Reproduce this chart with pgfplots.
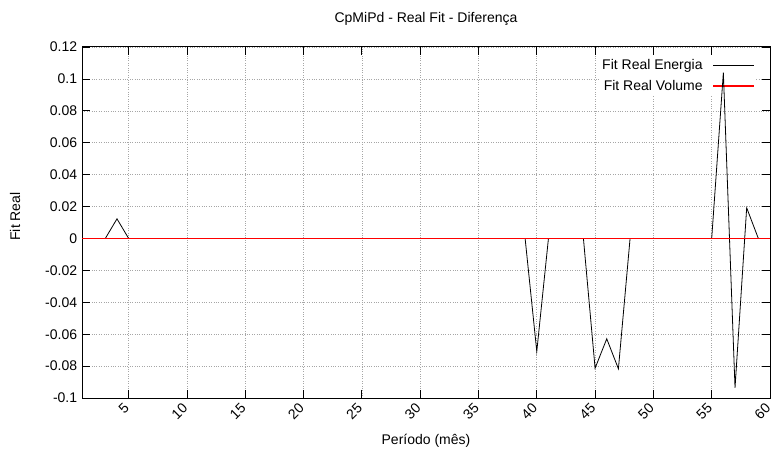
\documentclass[border=0pt]{standalone}
\usepackage{pgfplots}
\pgfplotsset{compat=1.18}
\usepackage{fontspec}
\setmainfont{Liberation Sans}
\begin{document}
\fontsize{14bp}{17bp}\selectfont
\begin{tikzpicture}[font=\fontsize{14bp}{17bp}\selectfont]
\begin{axis}[
  set layers=standard,
  scale only axis,
  width=688bp, height=351bp,
  xmin=1, xmax=60,
  ymin=-0.1, ymax=0.12,
  xtick={5,10,...,60},
  ytick={-0.1,-0.08,...,0.121},
  /pgf/number format/assume math mode=true,
  yticklabel style={/pgf/number format/fixed, /pgf/number format/precision=2},
  xticklabel style={rotate=45, anchor=east, yshift=-4bp, xshift=-2bp},
  tick align=inside,
  major tick length=8bp,
  tick style={black, line width=0.8bp},
  axis line style={black, line width=1bp},
  grid=major,
  grid style={dotted, gray!70, line width=0.6bp},
  title={CpMiPd - Real Fit - Diferença},
  title style={at={(axis description cs:0.5,1)}, anchor=center, yshift=22bp},
  xlabel={Período (mês)},
  xlabel style={at={(axis description cs:0.5,0)}, anchor=center, yshift=-43bp},
  ylabel={Fit Real},
  ylabel style={at={(axis description cs:0,0.5)}, anchor=center, yshift=67bp, xshift=6bp},
  legend style={at={(rel axis cs:1,1)}, anchor=north east, xshift=-14bp, yshift=-9bp,
    draw=none, fill=white, row sep=4.5bp, inner ysep=1bp, inner xsep=1bp,
    nodes={inner xsep=2bp}},
  legend cell align=right,
  legend plot pos=right,
  legend image code/.code={\path (0bp,0bp); \draw (8bp,0bp) -- (49bp,0bp);},
]
\addplot[black, line width=0.8bp, on layer=axis foreground] coordinates {
(3,0) (4,0.0123) (5,0) (6,0) (7,0) (8,0) (9,0) (10,0) (11,0) (12,0) (13,0) (14,0) (15,0)
(16,0) (17,0) (18,0) (19,0) (20,0) (21,0) (22,0) (23,0) (24,0) (25,0) (26,0) (27,0) (28,0)
(29,0) (30,0) (31,0) (32,0) (33,0) (34,0) (35,0) (36,0) (37,0) (38,0) (39,0) (40,-0.0708)
(41,0) (42,0) (43,0) (44,0) (45,-0.0813) (46,-0.0629) (47,-0.0817) (48,0) (49,0) (50,0)
(51,0) (52,0) (53,0) (54,0) (55,0) (56,0.1039) (57,-0.0936) (58,0.0192) (59,0)
};
\addlegendentry{Fit Real Energia}
\addplot[red, line width=1.2bp, on layer=axis foreground] coordinates {(1,0) (60,0)};
\addlegendentry{Fit Real Volume}
\end{axis}
\pgfresetboundingbox
\path ([shift={(-82bp,-56bp)}]current axis.south west) rectangle ([shift={(5bp,47bp)}]current axis.north east);
\end{tikzpicture}
\end{document}
